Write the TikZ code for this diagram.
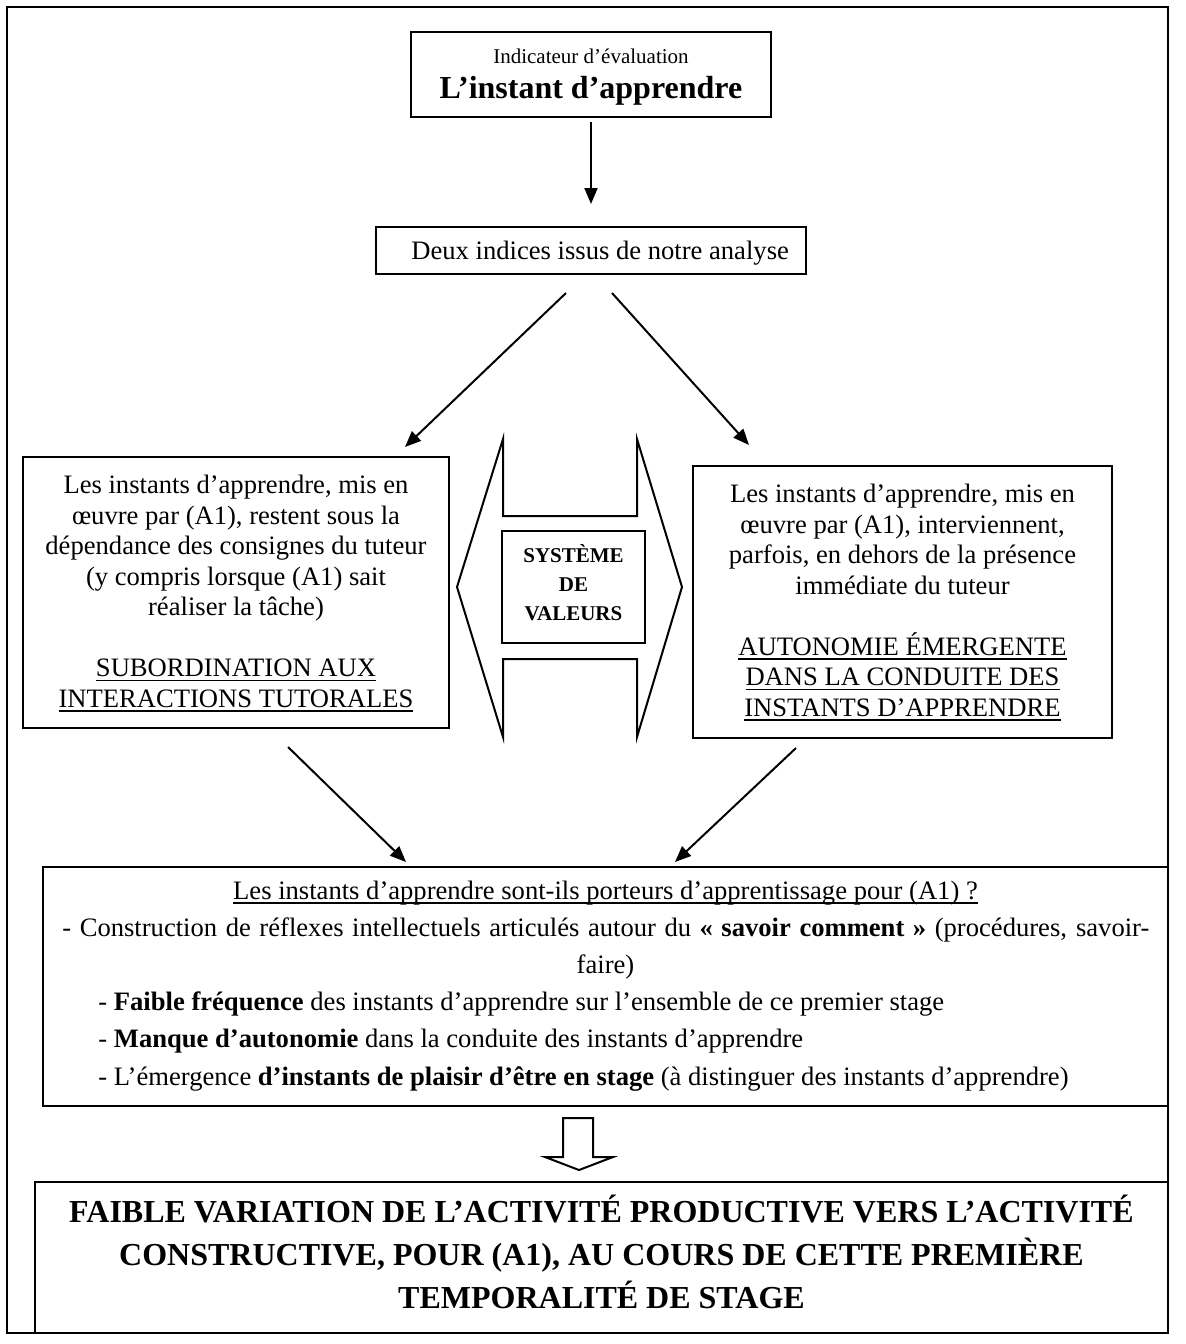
\documentclass[tikz,border=0pt]{standalone}
\usepackage{fontspec}
\setmainfont{Liberation Serif}
\usetikzlibrary{arrows.meta}
\newcommand{\ulx}[1]{\setbox0\hbox{#1}\rlap{\rule[-2.4pt]{\wd0}{0.7pt}}\box0}
\begin{document}
\begin{tikzpicture}[x=0.5pt,y=-0.5pt,
  box/.style={draw, line width=1pt, inner sep=0pt},
  arr/.style={-{Triangle[length=8pt,width=6.5pt]}, line width=1pt},
  txt/.style={anchor=base, inner sep=0pt, font=\fontsize{13.3}{15}\selectfont},
  txtl/.style={txt, anchor=base west},
  small/.style={txt, font=\fontsize{10.5}{12}\selectfont},
  smallb/.style={txt, font=\fontsize{10.5}{12}\selectfont\bfseries},
  big/.style={txt, font=\fontsize{16}{18}\selectfont\bfseries}]
\useasboundingbox (0,0) rectangle (1186,1344);
% outer frame
\node[draw, line width=1.2pt, inner sep=0pt, minimum width=580.5pt, minimum height=663pt] (frame) at (587.5,670) {};
% boxes
\node[box, minimum width=180pt, minimum height=42.5pt] (top) at (591,74.5) {};
\node[box, minimum width=215pt, minimum height=23.5pt] (deux) at (591,250.5) {};
\node[box, minimum width=213pt, minimum height=135.5pt] (left) at (236,592.5) {};
\node[box, minimum width=209.5pt, minimum height=136pt] (right) at (902.5,602) {};
\node[box, minimum width=71.5pt, minimum height=56pt] (sys) at (573.5,587) {};
\node[box, minimum width=562.5pt, minimum height=119.5pt] (quest) at (605.5,986.5) {};
\node[box, minimum width=566.5pt, minimum height=75.5pt] (final) at (601.5,1257.5) {};
% top box text
\node[small] (t1) at (591,63) {Indicateur d’évaluation};
\node[big] (t2) at (591,98.5) {L’instant d’apprendre};
% deux
\node[txtl] (d1) at (411,259) {Deux indices issus de notre analyse};
% left box text
\node[txt] (l1) at (236,493.5) {Les instants d’apprendre, mis en};
\node[txt] (l2) at (236,524) {œuvre par (A1), restent sous la};
\node[txt] (l3) at (236,554.5) {dépendance des consignes du tuteur};
\node[txt] (l4) at (236,585) {(y compris lorsque (A1) sait};
\node[txt] (l5) at (236,615.5) {réaliser la tâche)};
\node[txt] (l6) at (236,676.5) {\ulx{SUBORDINATION AUX}};
\node[txt] (l7) at (236,707) {\ulx{INTERACTIONS TUTORALES}};
% right box text
\node[txt] (r1) at (902.5,502.5) {Les instants d’apprendre, mis en};
\node[txt] (r2) at (902.5,533) {œuvre par (A1), interviennent,};
\node[txt] (r3) at (902.5,563.5) {parfois, en dehors de la présence};
\node[txt] (r4) at (902.5,594) {immédiate du tuteur};
\node[txt] (r5) at (902.5,655) {\ulx{AUTONOMIE ÉMERGENTE}};
\node[txt] (r6) at (902.5,685.5) {\ulx{DANS LA CONDUITE DES}};
\node[txt] (r7) at (902.5,716) {\ulx{INSTANTS D’APPRENDRE}};
% system of values
\node[smallb] (s1) at (573.5,562) {SYSTÈME};
\node[smallb] (s2) at (573.5,591) {DE};
\node[smallb] (s3) at (573.5,620) {VALEURS};
% double arrow shape
\draw[line width=1pt] (503,439) -- (503,516) -- (637,516) -- (637,439) -- (682,587) -- (637,737) -- (637,659) -- (503,659) -- (503,737) -- (457,587) -- cycle;
% question box text
\node[txt] (q1) at (605.5,899) {\ulx{Les instants d’apprendre sont-ils porteurs d’apprentissage pour (A1) ?}};
\node[txtl] (q2) at (62,936.2) {\makebox[543.5pt][s]{- Construction de réflexes intellectuels articulés autour du \textbf{« savoir comment »} (procédures, savoir-}};
\node[txt] (q3) at (605.5,973.4) {faire)};
\node[txtl] (q4) at (98,1010.6) {- \textbf{Faible fréquence} des instants d’apprendre sur l’ensemble de ce premier stage};
\node[txtl] (q5) at (98,1047.8) {- \textbf{Manque d’autonomie} dans la conduite des instants d’apprendre};
\node[txtl] (q6) at (98,1085) {- L’émergence \textbf{d’instants de plaisir d’être en stage} (à distinguer des instants d’apprendre)};
% final
\node[big] (f1) at (601.5,1222.5) {FAIBLE VARIATION DE L’ACTIVITÉ PRODUCTIVE VERS L’ACTIVITÉ};
\node[big] (f2) at (601.5,1265.5) {CONSTRUCTIVE, POUR (A1), AU COURS DE CETTE PREMIÈRE};
\node[big] (f3) at (601.5,1308.5) {TEMPORALITÉ DE STAGE};
% hollow down arrow
\draw[line width=1pt] (563,1118) -- (593,1118) -- (593,1157) -- (613,1157) -- (579,1170) -- (545,1157) -- (563,1157) -- cycle;
% connectors
\coordinate (v0) at (591,122);
\coordinate (v1) at (591,204);
\coordinate (a1s) at (566,293);
\coordinate (a1e) at (405,447);
\coordinate (a2s) at (612,293);
\coordinate (a2e) at (749,445);
\coordinate (a3s) at (288,747);
\coordinate (a3e) at (406,862);
\coordinate (a4s) at (796,748);
\coordinate (a4e) at (675,862);
\draw[arr] (v0) -- (v1);
\draw[arr] (a1s) -- (a1e);
\draw[arr] (a2s) -- (a2e);
\draw[arr] (a3s) -- (a3e);
\draw[arr] (a4s) -- (a4e);
\end{tikzpicture}
\end{document}
